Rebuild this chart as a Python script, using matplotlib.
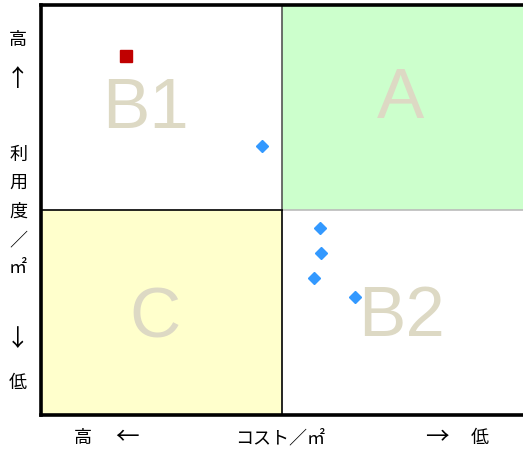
import matplotlib
matplotlib.use("Agg")
import matplotlib.pyplot as plt
from matplotlib.patches import Rectangle

plt.rcParams['font.family'] = ['Noto Sans CJK JP', 'DejaVu Sans']

# datos (0-100 en ambos ejes)
rojo_x = [17.6]
rojo_y = [87.6]
azul_x = [45.9, 57.9, 58.1, 56.6, 65.1]
azul_y = [65.6, 45.6, 39.5, 33.4, 28.8]

cuadrantes = ["B1", "A", "C", "B2"]
cuad_x = [21.6, 74.5, 23.7, 74.9]
cuad_y = [74.4, 76.8, 23.2, 23.7]

etiquetas_y = ["高", "↑", "利", "用", "度", "／", "㎡", "↓", "低"]
etiquetas_y_pos = [40, 80, 155, 183, 212, 240, 268, 340, 383]
etiquetas_x = ["高", "←", "コスト／㎡", "→", "低"]
etiquetas_x_pos = [83, 127, 280, 437, 480]

flechas = {"↑", "↓", "←", "→"}

W, H = 523, 454
fig = plt.figure(figsize=(W / 100, H / 100), dpi=100)
ax = fig.add_axes([41 / W, 1 - 415 / H, 482 / W, 410 / H])
ax.set_xlim(0, 100)
ax.set_ylim(0, 100)

# fondos de los cuadrantes
ax.add_patch(Rectangle((50, 50), 50, 50, facecolor='#ccffcc', edgecolor='none', zorder=0))
ax.add_patch(Rectangle((0, 0), 50, 50, facecolor='#ffffcc', edgecolor='none', zorder=0))
ax.plot([50, 100], [50, 50], color='#bbbbbb', lw=1.2, zorder=1)
ax.plot([0, 50], [50, 50], color='black', lw=1.2, zorder=1)
ax.plot([50, 50], [50, 100], color='#555555', lw=1.2, zorder=1)
ax.plot([50, 50], [0, 50], color='black', lw=1.2, zorder=1)

for t, x, y in zip(cuadrantes, cuad_x, cuad_y):
    ax.text(x, y, t, ha='center', va='center', fontsize=51,
            family='Liberation Sans', color='#ddd9c4', zorder=2)

ax.plot(rojo_x, rojo_y, 's', color='#c00000', markersize=8.5, zorder=3)
ax.plot(azul_x, azul_y, 'D', color='#3399ff', markersize=6, zorder=3)

ax.set_xticks([])
ax.set_yticks([])
for s in ['left', 'top', 'bottom']:
    ax.spines[s].set_linewidth(2.6)
ax.spines['right'].set_visible(False)

for t, y in zip(etiquetas_y, etiquetas_y_pos):
    fs = 17 if t in flechas else 13
    fig.text(18 / W, 1 - y / H, t, ha='center', va='center', fontsize=fs)
for t, x in zip(etiquetas_x, etiquetas_x_pos):
    fs = 17 if t in flechas else 13
    fig.text(x / W, 1 - 438 / H, t, ha='center', va='center', fontsize=fs)

fig.savefig("out.png", dpi=100)
